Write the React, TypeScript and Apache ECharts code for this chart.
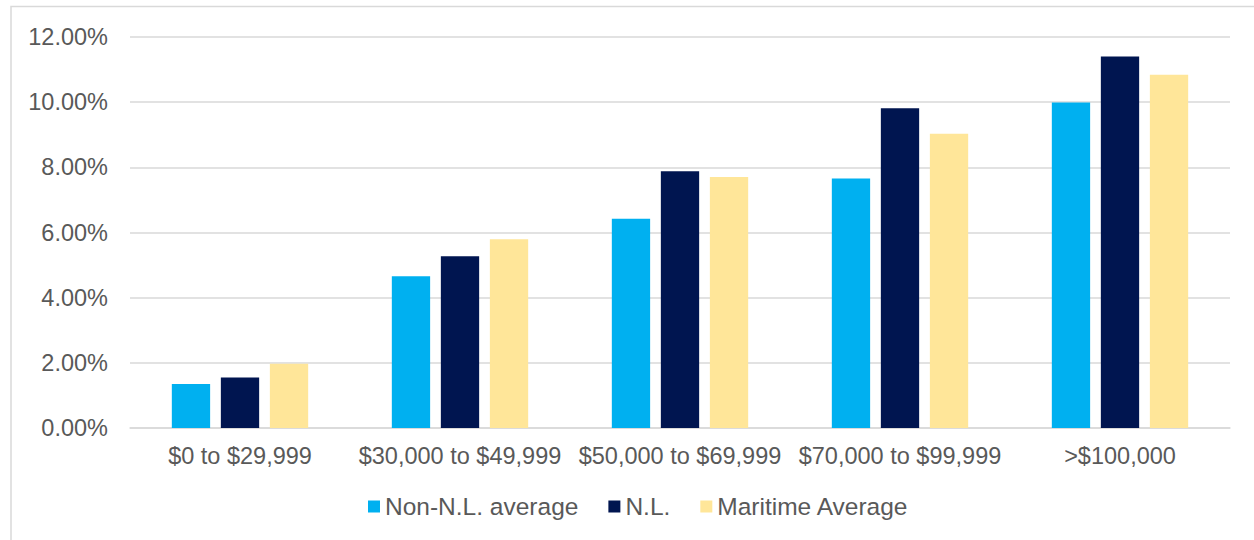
import React, { useEffect, useRef } from "react";
import * as echarts from "echarts";

const categories = ["$0 to $29,999", "$30,000 to $49,999", "$50,000 to $69,999", "$70,000 to $99,999", ">$100,000"];
const nonNL = [1.35, 4.66, 6.42, 7.66, 9.99];
const nl = [1.55, 5.27, 7.88, 9.81, 11.4];
const maritime = [1.97, 5.79, 7.7, 9.03, 10.84];
const seriesNames = ["Non-N.L. average", "N.L.", "Maritime Average"];
const colors = ["#00B0F0", "#001550", "#FFE699"];

export default function App() {
  const ref = useRef<HTMLDivElement>(null);
  useEffect(() => {
    document.body.style.margin = "0";
    const chart = echarts.init(ref.current!, null, { renderer: "svg" });
    const font = "'Liberation Sans', Arial, sans-serif";
    const values = [nonNL, nl, maritime];
    chart.setOption({
      animation: false,
      backgroundColor: "#ffffff",
      textStyle: { fontFamily: font },
      graphic: [
        {
          type: "rect",
          shape: { x: 11, y: 6.5, width: 1400, height: 700 },
          style: { fill: "none", stroke: "#d9d9d9", lineWidth: 1.5 },
          silent: true,
        },
      ],
      grid: { left: 130, right: 24, top: 37, bottom: 112, containLabel: false },
      legend: {
        left: 368,
        top: 494,
        padding: 0,
        itemWidth: 12,
        itemHeight: 12,
        itemGap: 30,
        icon: "rect",
        textStyle: { fontFamily: font, fontSize: 24.5, color: "#595959" },
        data: seriesNames,
      },
      xAxis: {
        type: "category",
        data: categories,
        axisLine: { show: true, lineStyle: { color: "#d9d9d9", width: 1.5 } },
        axisTick: { show: false },
        axisLabel: { fontFamily: font, fontSize: 23.5, color: "#595959", margin: 16, interval: 0 },
      },
      yAxis: {
        type: "value",
        min: 0,
        max: 12,
        interval: 2,
        axisLine: { show: false },
        axisTick: { show: false },
        splitLine: { lineStyle: { color: "#d9d9d9", width: 1.5 } },
        axisLabel: {
          fontFamily: font,
          fontSize: 23.5,
          color: "#595959",
          margin: 22,
          formatter: (v: number) => `${v.toFixed(2)}%`,
        },
      },
      series: values.map((d, i) => ({
        name: seriesNames[i],
        type: "bar",
        data: d,
        barWidth: 38.3,
        barGap: "28%",
        itemStyle: { color: colors[i] },
      })),
    });
    return () => chart.dispose();
  }, []);
  return <div ref={ref} style={{ width: 1254, height: 540 }} />;
}
